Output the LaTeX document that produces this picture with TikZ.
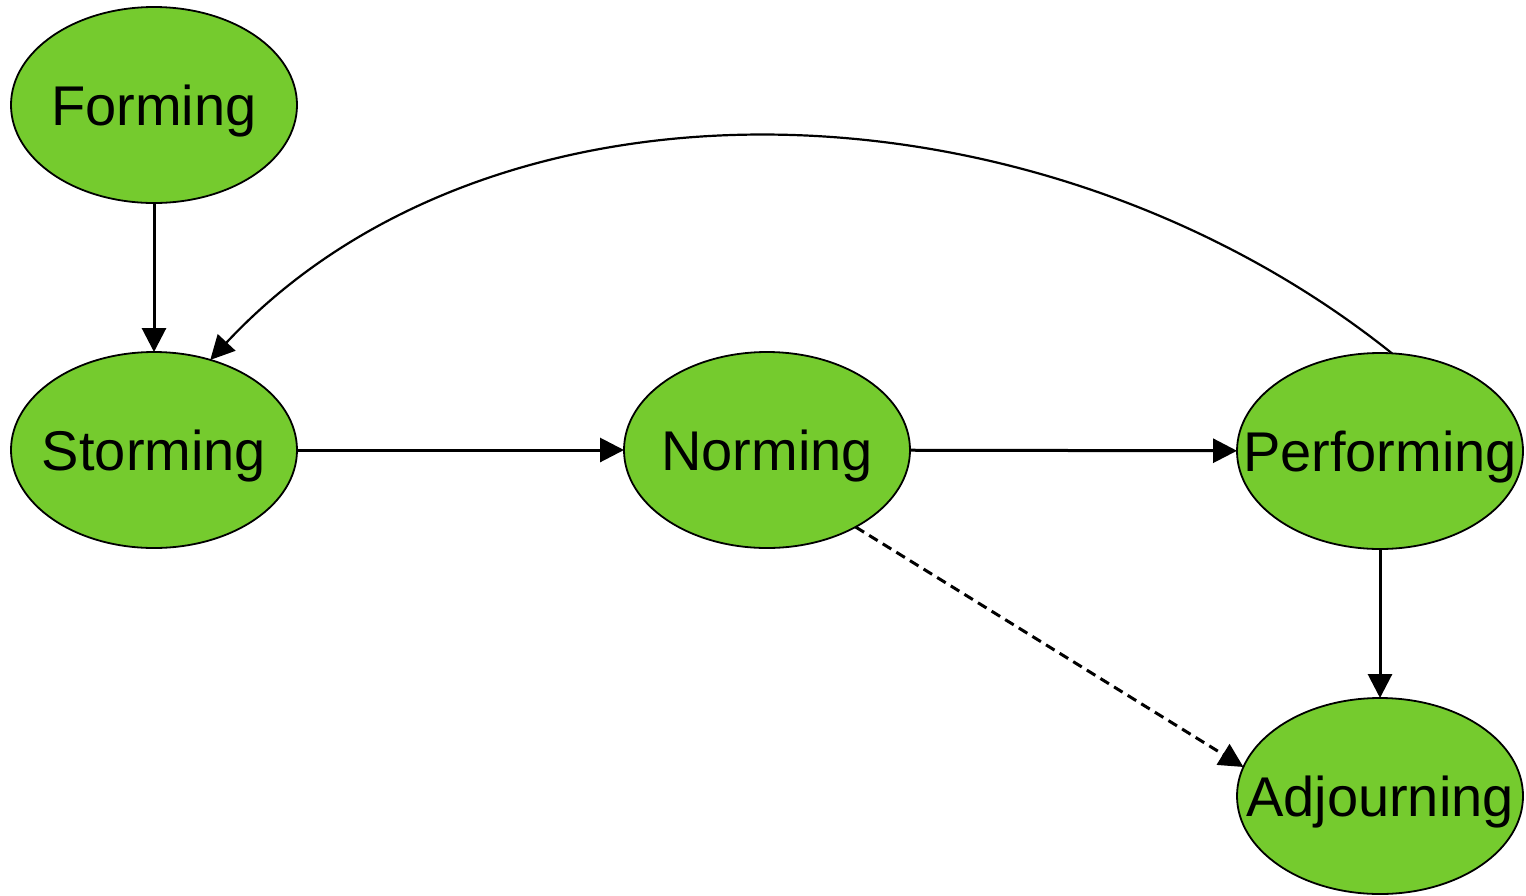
\documentclass[tikz,border=0pt]{standalone}
\usepackage{fontspec}
\setmainfont{Liberation Sans}
\usetikzlibrary{shapes.geometric,arrows.meta}
\definecolor{stagegreen}{RGB}{117,203,46}
\newcommand{\stagetext}[1]{\raisebox{-20pt}[0pt][0pt]{\makebox[0pt]{#1}}}
\begin{document}
\begin{tikzpicture}[x=1pt,y=-1pt,
  stage/.style={ellipse,draw=black,line width=1.8pt,fill=stagegreen,
    minimum width=286pt,minimum height=196pt,inner sep=0pt,outer sep=0pt,
    font=\fontsize{56}{60}\selectfont},
  tip/.style={-{Triangle[length=24pt,width=24pt]}},
  link/.style={line width=3pt,tip},
  curvelink/.style={line width=2.2pt,tip},
  dashlink/.style={line width=3pt,dash pattern=on 10pt off 6pt,tip}]
\useasboundingbox (0,0) rectangle (1526,895);
\node[stage] (form) at (154,105) {\stagetext{Forming}};
\node[stage] (storm) at (154,450) {\stagetext{Storming}};
\node[stage] (norm) at (767,450) {\stagetext{Norming}};
\node[stage] (perf) at (1380,451) {\stagetext{Performing}};
\node[stage] (adj) at (1380,796) {\stagetext{Adjourning}};
\draw[link] (form) -- (storm);
\draw[link] (storm) -- (norm);
\draw[link] (norm) -- (perf);
\draw[link] (perf) -- (adj);
\draw[dashlink] (norm.-41) -- (adj.168);
\draw[curvelink] (perf.83) .. controls (1040,72) and (495,55) .. (storm.58);
\end{tikzpicture}
\end{document}
